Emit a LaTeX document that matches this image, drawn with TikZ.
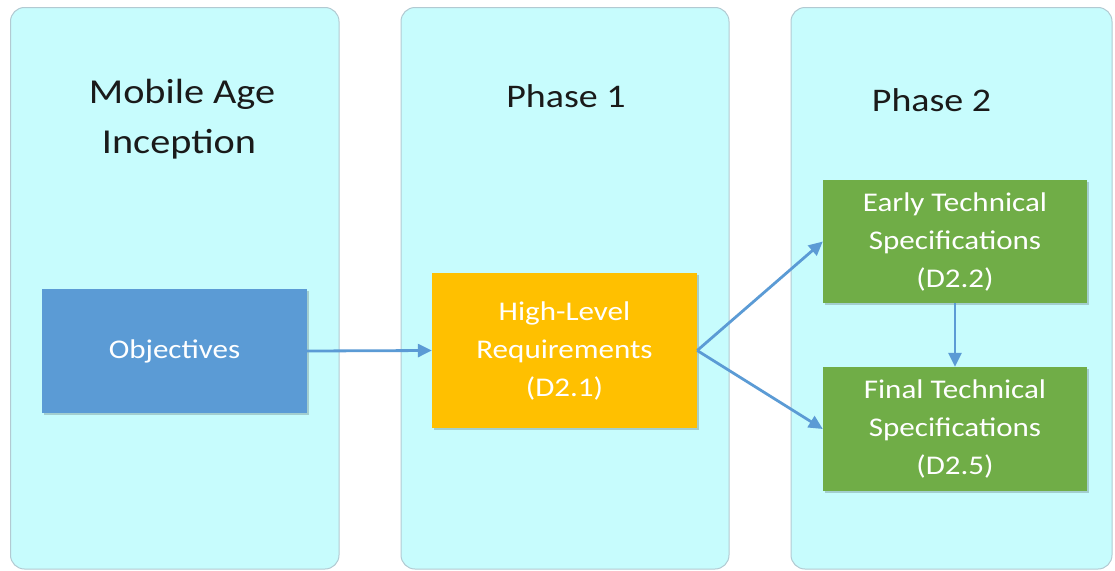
\documentclass[tikz,border=0pt]{standalone}
\usepackage{fontspec}
\setmainfont{Carlito}
\newfontfamily\widefont[FakeStretch=1.15]{Carlito}
\usetikzlibrary{arrows.meta,shadows}

\definecolor{panelfill}{HTML}{C7FCFD}
\definecolor{paneledge}{HTML}{B2CAD2}
\definecolor{objblue}{HTML}{5B9BD5}
\definecolor{reqgold}{HTML}{FFC000}
\definecolor{specgreen}{HTML}{70AD47}
\definecolor{flowblue}{HTML}{5B9BD5}
\definecolor{headink}{HTML}{1A1A1A}

\begin{document}
\begin{tikzpicture}[x=1pt,y=-1pt,
  panel/.style={draw=paneledge, line width=1pt, fill=panelfill, rounded corners=14pt},
  heading/.style={anchor=base, inner sep=0pt, text=headink,
    font=\widefont\fontsize{33}{33}\selectfont},
  bigheading/.style={heading, font=\widefont\fontsize{35}{35}\selectfont},
  card/.style={rectangle, inner sep=0pt, text=white, align=center,
    font=\widefont\fontsize{27}{38}\selectfont,
    drop shadow={shadow xshift=1.5pt, shadow yshift=-1.5pt, opacity=0.18, fill=black}},
  flow/.style={draw=flowblue, line width=2.8pt, -{Triangle[length=14pt,width=13pt]}}]

\useasboundingbox (0,0) rectangle (1115,570);
\fill[white] (0,0) rectangle (1115,570);

% three stage columns
\draw[panel] (10.5,7.5) rectangle (339,569);
\draw[panel] (401,7.5) rectangle (729,569);
\draw[panel] (791,7.5) rectangle (1112,569);

% column headings
\node[bigheading] (incA) at (182,103) {Mobile Age};
\node[bigheading] (incB) at (179,153) {Inception};
\node[heading] (ph1) at (566,107.5) {Phase 1};
\node[heading] (ph2) at (931.5,111.5) {Phase 2};

% deliverables
\node[card, fill=objblue, minimum width=265pt, minimum height=124pt]
  (obj) at (174.5,351) {Objectives};
\node[card, fill=reqgold, minimum width=265pt, minimum height=155pt]
  (hlr) at (564.5,350.5) {High-Level\\Requirements\\(D2.1)};
\node[card, fill=specgreen, minimum width=264pt, minimum height=123pt]
  (early) at (955,241.5) {Early Technical\\Specifications\\(D2.2)};
\node[card, fill=specgreen, minimum width=264pt, minimum height=124pt]
  (final) at (955,429) {Final Technical\\Specifications\\(D2.5)};

% flow between deliverables
\draw[flow] (obj.east) -- (hlr.west);
\draw[flow] (hlr.east) -- (early.west);
\draw[flow] (hlr.east) -- (final.west);
\draw[flow] (early.south) -- (final.north);
\end{tikzpicture}
\end{document}
